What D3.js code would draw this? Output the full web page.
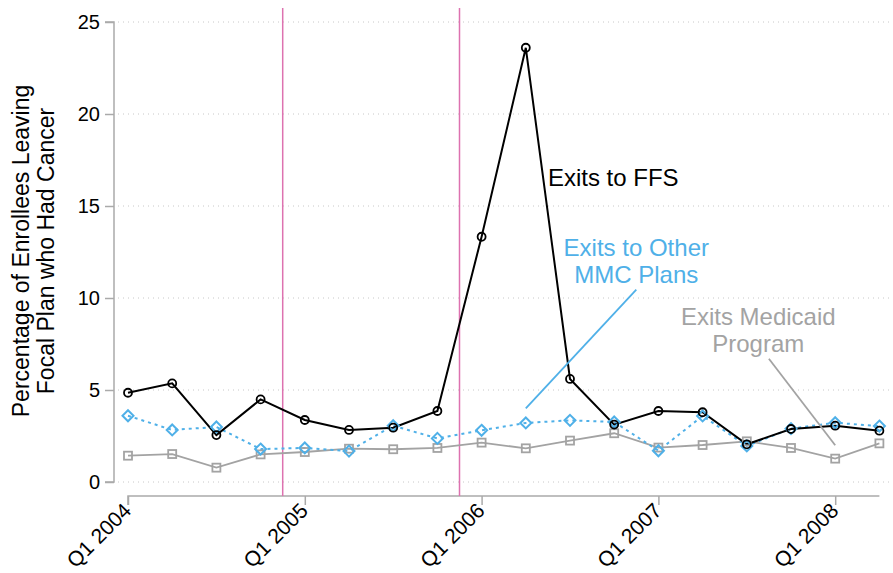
<!DOCTYPE html>
<html>
<head>
<meta charset="utf-8">
<script src="https://cdn.jsdelivr.net/npm/d3@7"></script>
<style>
  html, body { margin: 0; padding: 0; background: #fff; }
  svg { display: block; font-family: "Liberation Sans", Arial, sans-serif; }
</style>
</head>
<body>
<svg id="chart" width="893" height="573"></svg>
<script>
// ---------- data ----------
const quarters = ["Q1 2004","Q2 2004","Q3 2004","Q4 2004",
                  "Q1 2005","Q2 2005","Q3 2005","Q4 2005",
                  "Q1 2006","Q2 2006","Q3 2006","Q4 2006",
                  "Q1 2007","Q2 2007","Q3 2007","Q4 2007",
                  "Q1 2008","Q2 2008"];
const tickLabels = ["Q1 2004","Q1 2005","Q1 2006","Q1 2007","Q1 2008"];
const yTicks = [0, 5, 10, 15, 20, 25];

const exitsFFS      = [4.85, 5.36, 2.55, 4.49, 3.37, 2.83, 2.95, 3.86, 13.33, 23.6, 5.6, 3.12, 3.86, 3.79, 2.05, 2.88, 3.06, 2.79];
const exitsOtherMMC = [3.60, 2.83, 2.99, 1.79, 1.85, 1.68, 3.06, 2.37, 2.81, 3.21, 3.35, 3.26, 1.70, 3.59, 1.96, 2.90, 3.22, 3.04];
const exitsMedicaid = [1.43, 1.52, 0.78, 1.50, 1.63, 1.81, 1.78, 1.85, 2.14, 1.83, 2.25, 2.65, 1.87, 2.01, 2.21, 1.85, 1.27, 2.10];

// policy events (quarter positions, between quarters)
const eventLines = [3.5, 7.5];

// annotation labels (data coordinates: quarter index, value)
const labelFFS      = { lines: ["Exits to FFS"], x: 9.5, y: 16.1 };
const labelMMC      = { lines: ["Exits to Other", "MMC Plans"], x: 11.5, y: 12.3, pointer: [[11.5, 10.45], [9.0, 4.0]] };
const labelMedicaid = { lines: ["Exits Medicaid", "Program"], x: 14.26, y: 8.53, pointer: [[14.5, 6.7], [16.0, 2.0]] };

// ---------- chart ----------
const svg = d3.select("#chart");
const colBlack = "#000000", colBlue = "#4fb0e8", colGray = "#a3a3a3", colEvent = "#dd72b0", colAxis = "#aaaaaa";

const x = d3.scaleLinear().domain([0, quarters.length - 1]).range([128, 879.4]);
const y = d3.scaleLinear().domain([0, 25]).range([482, 22]);

// gridlines
svg.append("g").selectAll("line").data(yTicks).join("line")
  .attr("x1", 118).attr("x2", 890)
  .attr("y1", d => y(d)).attr("y2", d => y(d))
  .attr("stroke", "#c8c8c8").attr("stroke-width", 1)
  .attr("stroke-dasharray", "1,4");

// y axis
const yAxis = d3.axisLeft(y).tickValues(yTicks).tickSize(9).tickPadding(5).tickFormat(d3.format("d"));
const gy = svg.append("g").attr("transform", "translate(114,0)").call(yAxis);
gy.select(".domain").attr("stroke", colAxis).attr("stroke-width", 1.5).attr("d", `M-9,${y(25)}H0V${y(0)}H-9`);
gy.selectAll(".tick line").attr("stroke", colAxis).attr("stroke-width", 1.5);
gy.selectAll(".tick text").attr("font-size", 20).attr("fill", "#000").attr("font-family", "Liberation Sans, Arial, sans-serif");

// x axis
const tickIdx = tickLabels.map(t => quarters.indexOf(t));
const xAxis = d3.axisBottom(x).tickValues(tickIdx).tickSize(9).tickFormat(i => quarters[i]);
const gx = svg.append("g").attr("transform", "translate(0,496)").call(xAxis);
gx.select(".domain").attr("stroke", colAxis).attr("stroke-width", 1.5).attr("d", `M${x(0)},9V0H${x(quarters.length-1)}`);
gx.selectAll(".tick line").attr("stroke", colAxis).attr("stroke-width", 1.5);
gx.selectAll(".tick text")
  .attr("font-size", 21).attr("fill", "#000").attr("font-family", "Liberation Sans, Arial, sans-serif")
  .attr("text-anchor", "end").attr("dy", null).attr("y", null)
  .attr("transform", "translate(4,16) rotate(-45)");

// y axis title
const yTitle = svg.append("text")
  .attr("transform", "translate(0,251) rotate(-90)")
  .attr("text-anchor", "middle").attr("font-size", 23).attr("fill", "#000");
yTitle.append("tspan").attr("x", 0).attr("y", 29).text("Percentage of Enrollees Leaving");
yTitle.append("tspan").attr("x", 0).attr("y", 54).text("Focal Plan who Had Cancer");

// event lines
svg.append("g").selectAll("line").data(eventLines).join("line")
  .attr("x1", d => x(d)).attr("x2", d => x(d))
  .attr("y1", 8).attr("y2", 496)
  .attr("stroke", colEvent).attr("stroke-width", 1.5);

// series lines
const line = d3.line().x((d, i) => x(i)).y(d => y(d));
svg.append("path").datum(exitsMedicaid).attr("d", line)
  .attr("fill", "none").attr("stroke", colGray).attr("stroke-width", 1.8);
svg.append("path").datum(exitsOtherMMC).attr("d", line)
  .attr("fill", "none").attr("stroke", colBlue).attr("stroke-width", 2).attr("stroke-dasharray", "3,4");
svg.append("path").datum(exitsFFS).attr("d", line)
  .attr("fill", "none").attr("stroke", colBlack).attr("stroke-width", 2);

// markers
svg.append("g").selectAll("rect").data(exitsMedicaid).join("rect")
  .attr("x", (d, i) => x(i) - 4).attr("y", d => y(d) - 4)
  .attr("width", 8).attr("height", 8)
  .attr("fill", "none").attr("stroke", colGray).attr("stroke-width", 1.8);
svg.append("g").selectAll("path").data(exitsOtherMMC).join("path")
  .attr("d", (d, i) => `M${x(i)},${y(d) - 5.5}L${x(i) + 5.5},${y(d)}L${x(i)},${y(d) + 5.5}L${x(i) - 5.5},${y(d)}Z`)
  .attr("fill", "none").attr("stroke", colBlue).attr("stroke-width", 2);
svg.append("g").selectAll("circle").data(exitsFFS).join("circle")
  .attr("cx", (d, i) => x(i)).attr("cy", d => y(d)).attr("r", 4)
  .attr("fill", "none").attr("stroke", colBlack).attr("stroke-width", 1.8);

// annotations
function addLabel(lbl, color, anchor) {
  lbl.lines.forEach((s, k) => {
    svg.append("text").attr("font-size", 24).attr("fill", color).attr("text-anchor", anchor)
      .attr("x", x(lbl.x)).attr("y", y(lbl.y) + k * 27).text(s);
  });
  if (lbl.pointer) {
    svg.append("line")
      .attr("x1", x(lbl.pointer[0][0])).attr("y1", y(lbl.pointer[0][1]))
      .attr("x2", x(lbl.pointer[1][0])).attr("y2", y(lbl.pointer[1][1]))
      .attr("stroke", color).attr("stroke-width", 1.8);
  }
}
addLabel(labelFFS, colBlack, "start");
addLabel(labelMMC, colBlue, "middle");
addLabel(labelMedicaid, colGray, "middle");
</script>
</body>
</html>
